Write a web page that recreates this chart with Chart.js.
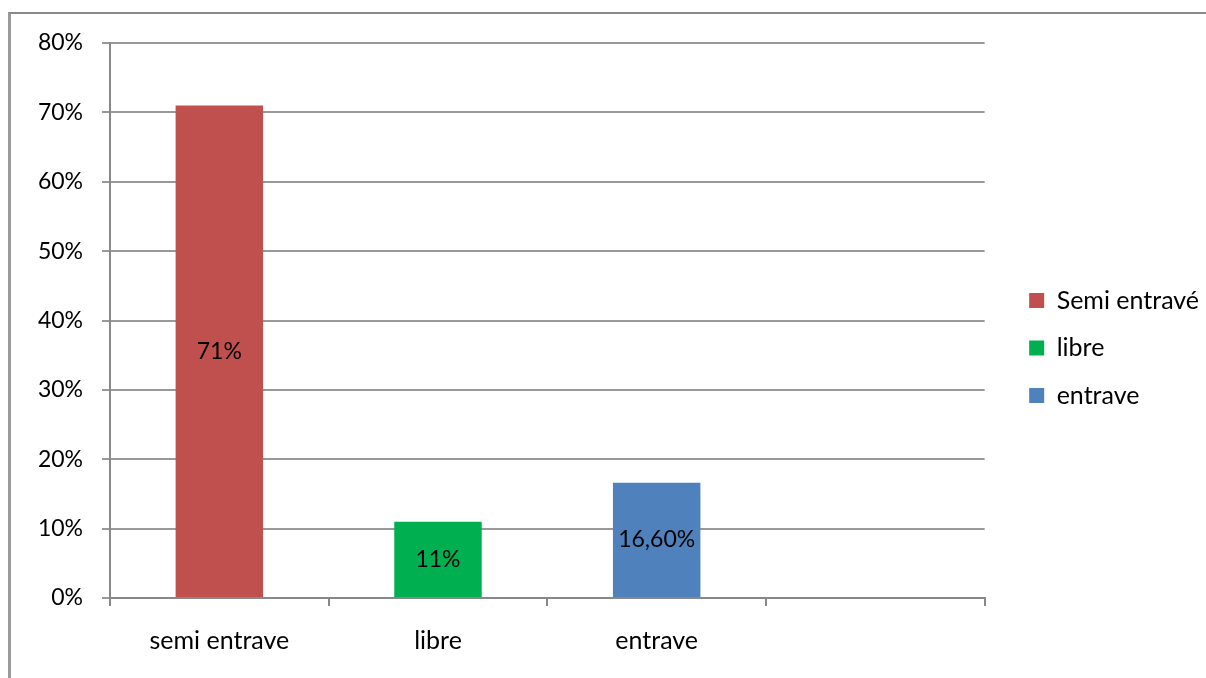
<!DOCTYPE html>
<html lang="fr">
<head>
  <meta charset="UTF-8" />
  <title>Entrave</title>
  <script src="https://cdn.jsdelivr.net/npm/chart.js@4.4.0/dist/chart.umd.min.js"></script>
  <style>
    html, body { margin: 0; padding: 0; background: #fff; overflow: hidden; }
    .frame {
      position: absolute; left: 8px; top: 12px; width: 1300px; height: 800px;
      border-top: 2px solid #8a8a8a; border-left: 3px solid #9a9a9a;
    }
    .box { position: absolute; left: 10px; top: 14px; width: 1196px; height: 664px; }
  </style>
</head>
<body>
  <div class="frame"></div>
  <div class="box"><canvas id="chart"></canvas></div>
  <script>
    // data
    const categories = ["semi entrave", "libre", "entrave", ""];
    const seriesNames = ["Semi entravé", "libre", "entrave"];
    const seriesValues = [0.71, 0.11, 0.166];
    const valueLabels = ["71%", "11%", "16,60%"];
    const colors = ["#c0504d", "#00b050", "#4f81bd"];

    const fontFamily = "Lato, 'Noto Sans', sans-serif";
    const numSize = 23;
    const textSize = 25;

    // one dataset per series, each sitting in its own category
    const datasets = seriesNames.map((name, i) => ({
      label: name,
      data: categories.map((c, j) => (j === i ? seriesValues[i] : null)),
      backgroundColor: colors[i],
      barPercentage: 0.4,
      categoryPercentage: 1,
    }));

    // labels in the middle of the bars
    const barLabels = {
      id: "barLabels",
      afterDatasetsDraw(chart) {
        const ctx = chart.ctx;
        ctx.save();
        ctx.font = numSize + "px " + fontFamily;
        ctx.fillStyle = "#000";
        ctx.textAlign = "center";
        ctx.textBaseline = "middle";
        chart.data.datasets.forEach((ds, i) => {
          const el = chart.getDatasetMeta(i).data[i];
          ctx.fillText(valueLabels[i], el.x, (el.y + el.base) / 2);
        });
        ctx.restore();
      },
    };

    new Chart(document.getElementById("chart"), {
      type: "bar",
      data: { labels: categories, datasets: datasets },
      plugins: [barLabels],
      options: {
        responsive: true,
        maintainAspectRatio: false,
        animation: false,
        layout: { padding: { top: 29, left: 0, right: 0, bottom: 25 } },
        plugins: {
          tooltip: { enabled: false },
          legend: {
            position: "right",
            labels: {
              color: "#000",
              boxWidth: 15,
              boxHeight: 15,
              padding: 22.5,
              font: { family: fontFamily, size: textSize },
            },
          },
        },
        scales: {
          x: {
            stacked: true,
            afterFit: (s) => { s.height = 55; },
            grid: {
              drawOnChartArea: false,
              drawTicks: true,
              tickLength: 8,
              color: "#888",
              lineWidth: 2,
            },
            border: { color: "#888", width: 2 },
            ticks: {
              color: "#000",
              padding: 20,
              font: { family: fontFamily, size: textSize },
            },
          },
          y: {
            min: 0,
            max: 0.8,
            afterFit: (s) => { s.width = 100; s.paddingTop = 0; s.paddingBottom = 0; },
            grid: { color: "#999", lineWidth: 2, tickLength: 8 },
            border: { color: "#888", width: 2 },
            ticks: {
              stepSize: 0.1,
              color: "#000",
              padding: 19,
              font: { family: fontFamily, size: numSize },
              callback: (v) => Math.round(v * 100) + "%",
            },
          },
          // empty spacer between the plot and the legend
          gap: {
            type: "linear",
            position: "right",
            display: true,
            afterFit: (s) => { s.width = 22; },
            grid: { display: false },
            border: { display: false },
            ticks: { display: false },
          },
        },
      },
    });
  </script>
</body>
</html>
